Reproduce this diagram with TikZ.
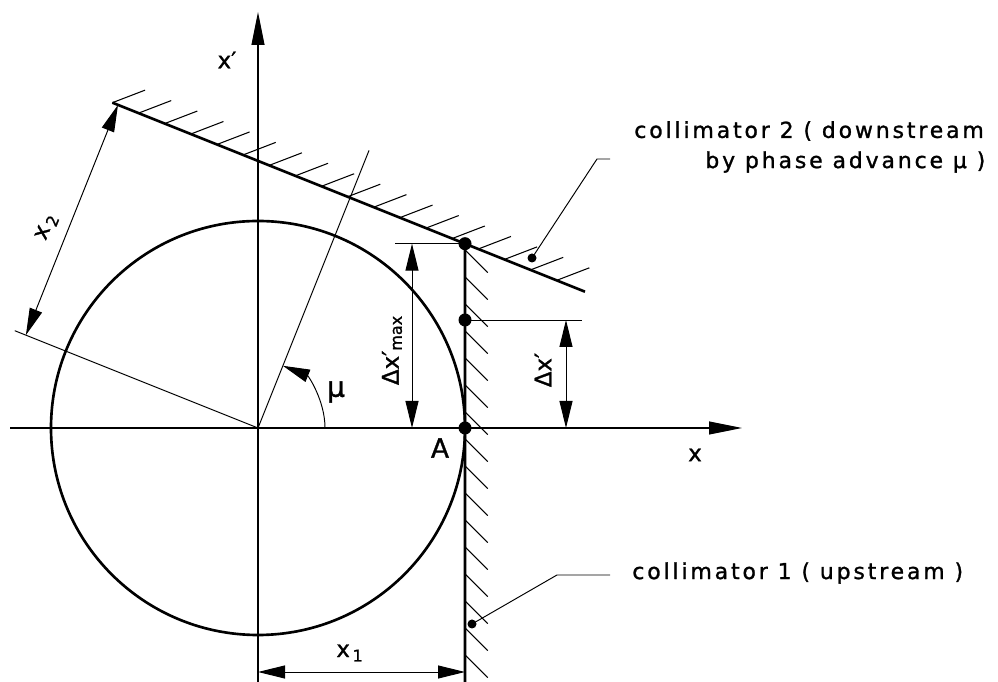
\documentclass[tikz,border=0pt]{standalone}
\usepackage{fontspec}
\setmainfont[FakeBold=1.2]{DejaVu Sans}
\newfontfamily\captionfont[LetterSpace=13,FakeBold=1.2]{DejaVu Sans}
\usetikzlibrary{arrows.meta,calc}

\begin{document}
\begin{tikzpicture}[
  x=0.2mm, y=0.2mm,
  every node/.style={font=\fontsize{13}{15}\selectfont, inner sep=0pt},
  axis/.style={line width=0.6pt, -{Triangle[length=6.6mm, width=2.6mm]}},
  guide/.style={line width=0.55pt},
  jaw/.style={line width=1.5pt},
  orbit/.style={line width=1.5pt},
  hatch/.style={line width=0.6pt},
  dimline/.style={line width=0.55pt,
    {Triangle[length=5.4mm, width=2.6mm]}-{Triangle[length=5.4mm, width=2.6mm]}},
  spot/.style={circle, fill, minimum size=2.6mm},
  smallspot/.style={circle, fill, minimum size=1.8mm},
  caption/.style={font=\captionfont\fontsize{12.5}{15}\selectfont, anchor=west}
]
\useasboundingbox (0,0) rectangle (998,682);

% phase space origin and collimator geometry
\coordinate (O) at (258,254);
\coordinate (F) at ($(O)+(68.2:248)$);
\coordinate (c2a) at ($(F)+(158.2:256)$);
\coordinate (c2b) at ($(F)+(-21.8:253)$);
\coordinate (c1a) at (465,700);
\coordinate (c1b) at (465,0);
\coordinate (D1) at (intersection of c2a--c2b and c1a--c1b);
\coordinate (D2) at (465,362);
\coordinate (A) at (465,254);

% axes
\coordinate (xl) at (10,254);
\coordinate (xr) at (742,254);
\coordinate (yb) at (258,0);
\coordinate (yt) at (258,670);
\draw[axis] (xl) -- (xr);
\draw[axis] (yb) -- (yt);
\node (xlabel) at (695,227) {x};
\node (xplabel) at (227,622) {x′};

% beam ellipse
\draw[orbit] (O) circle (41.4mm);

% collimator 1
\draw[jaw] (D1) -- (c1b);
\foreach \k in {0,...,15}
  \draw[hatch] ($(465,432)+(0,-27*\k)$) -- ++(-45:32);

% collimator 2
\draw[jaw] (c2a) -- (c2b);
\foreach \k in {0,...,17}
  \draw[hatch] ($(c2a)!\k*0.0553!(c2b)$) -- ++(21:35);

% phase advance
\coordinate (mu) at ($(O)+(68.2:299)$);
\coordinate (pl) at ($(O)+(158.2:262)$);
\coordinate (arcs) at ($(O)+(67,0)$);
\draw[guide] (O) -- (mu);
\draw[guide] (O) -- (pl);
\draw[guide, -{Triangle[length=5.4mm, width=2.6mm]}] (arcs) arc[start angle=0, end angle=68.2, radius=13.4mm];
\node[font=\fontsize{16}{18}\selectfont] (mulabel) at (336,290) {μ};

% x2
\coordinate (x2a) at ($(O)+(158.2:250)$);
\coordinate (x2b) at ($(F)+(158.2:250)$);
\draw[dimline] (x2a) -- (x2b);
\node[rotate=68.2] (x2label) at (47,455) {x\kern1.5pt\textsubscript{2}};

% points on collimator 1
\node[spot] (dot1) at (D1) {};
\node[spot] (dot2) at (D2) {};
\node[spot] (dotA) at (A) {};
\node[font=\fontsize{15}{17}\selectfont] (Alabel) at (440,234) {A};

% Delta x' max
\coordinate (m1) at (395,0);
\coordinate (m2) at (412,0);
\draw[guide] (D1 -| m1) -- (D1);
\draw[dimline] (D1 -| m2) -- (A -| m2);
\node[rotate=90] (dmaxlabel) at (392,332) {Δx′\textsubscript{max}};

% Delta x'
\coordinate (m3) at (582,0);
\coordinate (m4) at (566,0);
\draw[guide] (D2) -- (D2 -| m3);
\draw[dimline] (D2 -| m4) -- (A -| m4);
\node[rotate=90] (dlabel) at (543,312) {Δx′};

% x1
\coordinate (x1l) at (258,10);
\coordinate (x1r) at (465,10);
\draw[dimline] (x1l) -- (x1r);
\node (x1label) at (350,29) {x\kern1.5pt\textsubscript{1}};

% leaders
\node[smallspot] (c2spot) at (532,424) {};
\coordinate (c2k) at (597,523);
\coordinate (c2e) at (610,523);
\draw[guide] (c2spot.center) -- (c2k) -- (c2e);
\node[caption] (c2text) at (634,551) {collimator 2 ( downstream};
\node[caption] (c2text2) at (705,520) {by phase advance μ )};

\node[smallspot] (c1spot) at (472,58) {};
\coordinate (c1k) at (557,107);
\coordinate (c1e) at (610,107);
\draw[guide] (c1spot.center) -- (c1k) -- (c1e);
\node[caption] (c1text) at (632,109) {collimator 1 ( upstream )};
\end{tikzpicture}
\end{document}
